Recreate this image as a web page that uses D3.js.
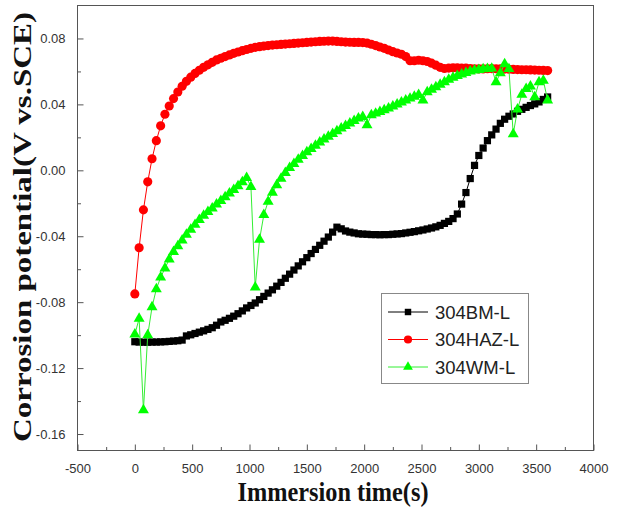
<!DOCTYPE html>
<html><head><meta charset="utf-8">
<script src="https://cdnjs.cloudflare.com/ajax/libs/d3/7.8.5/d3.min.js"></script>
<style>body{margin:0;background:#fff} svg{display:block}</style>
</head><body><svg id="c" width="622" height="512"></svg>
<script>
// Immersion time (s)
const times = [
  0,37.5,75,112.5,150,187.5,225,262.5,
  300,337.5,375,412.5,450,487.5,525,562.5,
  600,637.5,675,712.5,750,787.5,825,862.5,
  900,937.5,975,1012.5,1050,1087.5,1125,1162.5,
  1200,1237.5,1275,1312.5,1350,1387.5,1425,1462.5,
  1500,1537.5,1575,1612.5,1650,1687.5,1725,1762.5,
  1800,1837.5,1875,1912.5,1950,1987.5,2025,2062.5,
  2100,2137.5,2175,2212.5,2250,2287.5,2325,2362.5,
  2400,2437.5,2475,2512.5,2550,2587.5,2625,2662.5,
  2700,2737.5,2775,2812.5,2850,2887.5,2925,2962.5,
  3000,3037.5,3075,3112.5,3150,3187.5,3225,3262.5,
  3300,3337.5,3375,3412.5,3450,3487.5,3525,3562.5,
  3600];
// 304BM-L
const bmValues = [
  -0.104,-0.1042,-0.1043,-0.1043,-0.1042,-0.1042,-0.1041,-0.104,
  -0.1038,-0.1036,-0.1034,-0.103,-0.1005,-0.0998,-0.099,-0.0982,
  -0.0974,-0.0965,-0.0955,-0.094,-0.092,-0.091,-0.0898,-0.0885,
  -0.087,-0.0853,-0.0835,-0.082,-0.0805,-0.0785,-0.0765,-0.0745,
  -0.0725,-0.0703,-0.068,-0.0655,-0.063,-0.0605,-0.058,-0.0555,
  -0.053,-0.0505,-0.048,-0.0455,-0.043,-0.0405,-0.0375,-0.0345,
  -0.0355,-0.0368,-0.0375,-0.038,-0.0385,-0.0387,-0.0388,-0.039,
  -0.039,-0.0391,-0.039,-0.039,-0.0388,-0.0386,-0.0384,-0.038,
  -0.0376,-0.0372,-0.0367,-0.0362,-0.0356,-0.035,-0.0343,-0.0334,
  -0.0322,-0.031,-0.0293,-0.0265,-0.0205,-0.0135,-0.005,0.003,
  0.009,0.0135,0.018,0.0215,0.025,0.0285,0.031,0.0328,
  0.0342,0.0358,0.037,0.0382,0.0393,0.0403,0.0415,0.043,
  0.0445];
// 304HAZ-L
const hazValues = [
  -0.075,-0.047,-0.024,-0.007,0.007,0.018,0.027,0.034,
  0.039,0.0435,0.0475,0.051,0.054,0.0565,0.0588,0.0607,
  0.0625,0.064,0.0655,0.067,0.068,0.069,0.070,0.071,
  0.0718,0.0726,0.0733,0.074,0.0746,0.075,0.0754,0.0757,
  0.076,0.0762,0.0764,0.0766,0.0768,0.077,0.0772,0.0774,
  0.0776,0.0778,0.078,0.0782,0.0783,0.0784,0.0784,0.0782,
  0.078,0.0778,0.0777,0.0776,0.0776,0.0775,0.0772,0.0765,
  0.0757,0.0748,0.074,0.073,0.072,0.0712,0.0704,0.069,
  0.0665,0.0665,0.0668,0.0665,0.066,0.065,0.0638,0.0625,
  0.0618,0.062,0.0622,0.0622,0.0621,0.062,0.0618,0.0616,
  0.0615,0.0615,0.0616,0.0617,0.0616,0.0615,0.0614,0.0613,
  0.0612,0.0611,0.061,0.061,0.0609,0.0608,0.0607,0.0606,
  0.0605];
// 304WM-L
const wmValues = [
  -0.0995,-0.09,-0.1455,-0.1,-0.083,-0.072,-0.065,-0.0595,
  -0.054,-0.0495,-0.046,-0.0425,-0.039,-0.036,-0.033,-0.03,
  -0.0275,-0.0252,-0.023,-0.0207,-0.0185,-0.0162,-0.014,-0.0118,
  -0.0095,-0.0072,-0.0045,-0.01,-0.071,-0.042,-0.027,-0.019,
  -0.0135,-0.009,-0.005,-0.0015,0.0015,0.004,0.0065,0.0088,
  0.011,0.013,0.015,0.017,0.0188,0.0205,0.0222,0.0238,
  0.0254,0.027,0.0285,0.03,0.0315,0.0325,0.0275,0.0335,
  0.0345,0.0355,0.0365,0.0376,0.0388,0.04,0.0412,0.0424,
  0.0436,0.0448,0.0458,0.0425,0.0475,0.049,0.0505,0.052,
  0.0535,0.055,0.0562,0.0573,0.0583,0.0592,0.06,0.0606,
  0.061,0.0614,0.0616,0.0618,0.0535,0.059,0.0645,0.0615,
  0.022,0.037,0.046,0.0495,0.051,0.0445,0.0535,0.0545,
  0.0425];

const seriesNames = ["304BM-L","304HAZ-L","304WM-L"];
const xTicks = [-500,0,500,1000,1500,2000,2500,3000,3500,4000];
const xMinorTicks = [-250,250,750,1250,1750,2250,2750,3250,3750];
const yTicks = [-0.16,-0.12,-0.08,-0.04,0,0.04,0.08];
const yMinorTicks = [-0.14,-0.10,-0.06,-0.02,0.02,0.06];
const xLabel = "Immersion time(s)";
const yLabel = "Corrosion potential(V vs.SCE)";

const svg = d3.select("#c");
const x = d3.scaleLinear().domain([-500,4000]).range([77.5,593.5]);
const y = d3.scaleLinear().domain([-0.17,0.10]).range([450.5,5.5]);

const axisColor = "#555";
const tickFont = "'Liberation Sans', Arial, sans-serif";

// frame
svg.append("rect").attr("x",x(-500)).attr("y",y(0.10))
  .attr("width",x(4000)-x(-500)).attr("height",y(-0.17)-y(0.10))
  .attr("fill","none").attr("stroke",axisColor).attr("stroke-width",1);

function styleAxis(g){
  g.select(".domain").remove();
  g.selectAll(".tick line").attr("stroke",axisColor);
  g.selectAll("text").attr("fill","#333").attr("font-family",tickFont).attr("font-size",13);
}
const xAxis = svg.append("g").attr("transform",`translate(0,${y(-0.17)})`)
  .call(d3.axisBottom(x).tickValues(xTicks).tickSizeInner(-6).tickSizeOuter(0).tickPadding(13).tickFormat(d=>String(d)));
styleAxis(xAxis);
const xMinor = svg.append("g").attr("transform",`translate(0,${y(-0.17)})`)
  .call(d3.axisBottom(x).tickValues(xMinorTicks).tickSizeInner(-3.5).tickSizeOuter(0).tickFormat(""));
styleAxis(xMinor);
const yAxis = svg.append("g").attr("transform",`translate(${x(-500)},0)`)
  .call(d3.axisLeft(y).tickValues(yTicks).tickSizeInner(-6).tickSizeOuter(0).tickPadding(12).tickFormat(d=>d.toFixed(2)));
styleAxis(yAxis);
const yMinor = svg.append("g").attr("transform",`translate(${x(-500)},0)`)
  .call(d3.axisLeft(y).tickValues(yMinorTicks).tickSizeInner(-3.5).tickSizeOuter(0).tickFormat(""));
styleAxis(yMinor);

// axis titles
svg.append("text").attr("x",333).attr("y",501).attr("text-anchor","middle")
  .attr("font-family","'Liberation Serif','Times New Roman',serif").attr("font-weight","bold")
  .attr("font-size",28).attr("textLength",191).attr("lengthAdjust","spacingAndGlyphs")
  .attr("fill","#111").text(xLabel);
svg.append("text").attr("transform","translate(31,227) rotate(-90)").attr("text-anchor","middle")
  .attr("font-family","'Liberation Serif','Times New Roman',serif").attr("font-weight","bold")
  .attr("font-size",26).attr("textLength",430).attr("lengthAdjust","spacingAndGlyphs")
  .attr("fill","#111").text(yLabel);

const series = [
  {name:seriesNames[0], values:bmValues, color:"#000000", line:"#000000", sym:d3.symbolSquare, size:52},
  {name:seriesNames[1], values:hazValues, color:"#ff0000", line:"#ff0000", sym:d3.symbolCircle, size:66},
  {name:seriesNames[2], values:wmValues, color:"#00ff00", line:"#33ee33", sym:d3.symbolTriangle, size:52}
];

const line = d3.line().x(d=>x(d[0])).y(d=>y(d[1]));
series.forEach(s=>{
  const pts = times.map((t,i)=>[t,s.values[i]]);
  const g = svg.append("g");
  g.append("path").attr("d",line(pts)).attr("fill","none").attr("stroke",s.line).attr("stroke-width",1);
  g.selectAll("path.m").data(pts).join("path").attr("class","m")
    .attr("transform",d=>`translate(${x(d[0])},${y(d[1])})`)
    .attr("d",d3.symbol(s.sym,s.size)).attr("fill",s.color);
});

// legend
const lg = svg.append("g");
lg.append("rect").attr("x",381.5).attr("y",293.5).attr("width",147).attr("height",90)
  .attr("fill","#fff").attr("stroke","#888").attr("stroke-width",1);
series.forEach((s,i)=>{
  const cy = 312 + i*27.5;
  lg.append("line").attr("x1",388).attr("x2",428).attr("y1",cy).attr("y2",cy)
    .attr("stroke",s.line).attr("stroke-width",1);
  lg.append("path").attr("transform",`translate(408,${cy})`).attr("d",d3.symbol(s.sym,s.size*0.8)).attr("fill",s.color);
  lg.append("text").attr("x",435).attr("y",cy+6.5).attr("font-family",tickFont).attr("font-size",18.5)
    .attr("fill","#222").text(s.name);
});
</script></body></html>
